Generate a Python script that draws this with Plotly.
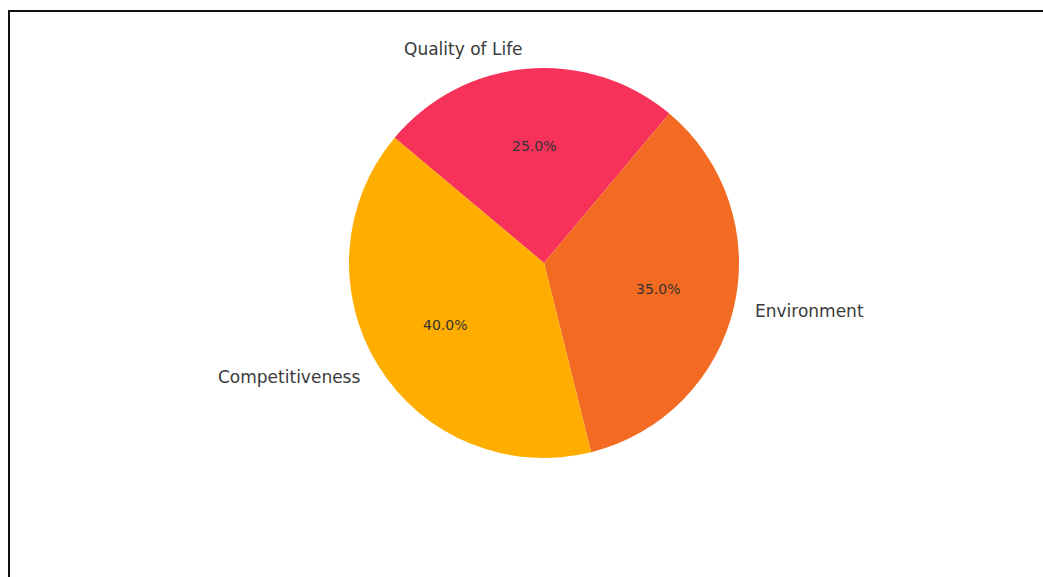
import math
import plotly.graph_objects as go

# Share of each pillar (percent), drawn clockwise from the start angle
categories = ["Quality of Life", "Environment", "Competitiveness"]
shares = [25.0, 35.0, 40.0]
colors = ["#F7325A", "#F36B22", "#FFAE00"]

W, H = 1043, 577
CX, CY, R = 544, 263, 195          # pie centre and radius in pixels
START_DEG = 140                    # start angle, counterclockwise from 3 o'clock

fig = go.Figure(
    go.Pie(
        labels=categories,
        values=shares,
        sort=False,
        direction="clockwise",
        rotation=90 - START_DEG,
        marker=dict(colors=colors, line=dict(width=0)),
        textinfo="none",
        hoverinfo="label+percent",
        showlegend=False,
        domain=dict(
            x=[(CX - R) / W, (CX + R) / W],
            y=[1 - (CY + R) / H, 1 - (CY - R) / H],
        ),
    )
)


def to_paper(px, py):
    return px / W, 1 - py / H


annotations = []
total = sum(shares)
angle = START_DEG
for name, val in zip(categories, shares):
    span = 360 * val / total
    mid = math.radians(angle - span / 2)
    c, s = math.cos(mid), math.sin(mid)
    # category label just outside the rim
    lx, ly = to_paper(CX + 1.1 * R * c, CY - 1.1 * R * s)
    annotations.append(dict(
        x=lx, y=ly, xref="paper", yref="paper", text=name, showarrow=False,
        xanchor="left" if c > 0 else "right", yanchor="middle",
        font=dict(family="DejaVu Sans", size=17, color="#3a3a3a"),
    ))
    # percentage inside the wedge
    tx, ty = to_paper(CX + 0.6 * R * c, CY - 0.6 * R * s)
    annotations.append(dict(
        x=tx, y=ty, xref="paper", yref="paper", text=f"{val / total * 100:.1f}%",
        showarrow=False, xanchor="center", yanchor="middle",
        font=dict(family="DejaVu Sans", size=14, color="#333333"),
    ))
    angle -= span

fig.update_layout(
    width=W, height=H,
    margin=dict(l=0, r=0, t=0, b=0),
    paper_bgcolor="white",
    plot_bgcolor="white",
    annotations=annotations,
    shapes=[dict(
        type="rect", xref="paper", yref="paper",
        x0=9 / W, x1=1.02, y0=-0.02, y1=1 - 11 / H,
        line=dict(color="#111111", width=2), fillcolor="rgba(0,0,0,0)",
    )],
)

fig.write_html("out.html")
